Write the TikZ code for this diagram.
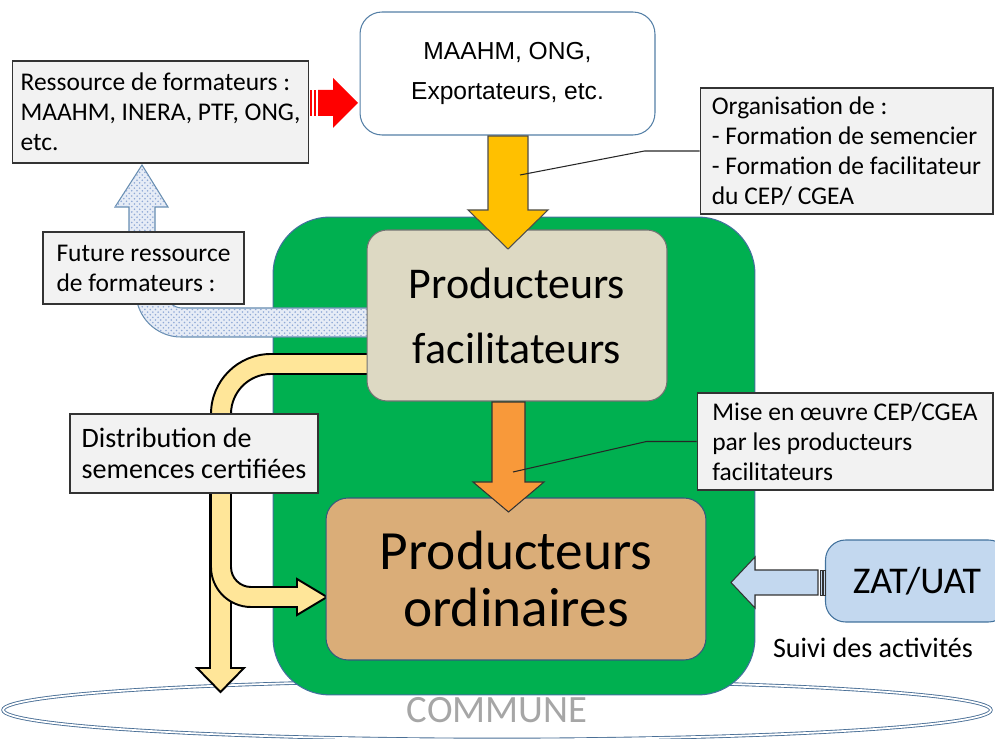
\documentclass[tikz,border=0pt]{standalone}
\usepackage{fontspec}
\setmainfont{Carlito}
\newfontfamily\arialfont{Liberation Sans}
\usetikzlibrary{shapes.geometric,patterns}

\definecolor{zonegreen}{HTML}{00B050}
\definecolor{zoneborder}{HTML}{41719C}
\definecolor{facfill}{HTML}{DDD9C3}
\definecolor{ordfill}{HTML}{DAAD78}
\definecolor{calloutfill}{HTML}{F2F2F2}
\definecolor{seedyellow}{HTML}{FFE699}
\definecolor{goldfill}{HTML}{FFC000}
\definecolor{orangefill}{HTML}{F8993A}
\definecolor{zatblue}{HTML}{C3D8EF}
\definecolor{dotblue}{HTML}{8FA9D6}
\definecolor{communeline}{HTML}{4A6F96}

\tikzset{
	callout/.style={draw=black!80, fill=calloutfill, line width=0.6pt, inner sep=0pt, align=left, font=\fontsize{14.5}{17}\selectfont},
	roundbox/.style={rounded corners=0.4cm, line width=0.6pt, inner sep=0pt, align=center},
	seedarrow/.style={draw=black, fill=seedyellow, line width=1.1pt},
	dotarrow/.style={draw=zoneborder!80, fill=dotblue!22, line width=0.6pt, postaction={pattern=crosshatch dots, pattern color=dotblue}},
	pointer/.style={draw=black!85, line width=0.6pt},
}

\begin{document}
\begin{tikzpicture}[x=0.02cm, y=0.02cm]

	\useasboundingbox (0,0) rectangle (995,-739);

	% Commune and zone.
	\node[ellipse, draw=communeline, double=white, double distance=1pt, line width=0.5pt, minimum width=19.76cm, minimum height=1.18cm, inner sep=0pt, text=black!35, font=\fontsize{22}{24}\selectfont] (commune) at (497,-710) {COMMUNE};
	\node[draw=zoneborder, fill=zonegreen, line width=0.6pt, rounded corners=1.14cm, minimum width=9.64cm, minimum height=9.56cm] (zone) at (514,-456) {};

	% Dotted arrows (future trainers).
	\draw[dotarrow] (380,-308) -- (182,-308) arc[start angle=270, end angle=180, radius=16] -- (166,-260) -- (136,-260) -- (136,-292) arc[start angle=180, end angle=270, radius=45] -- (380,-337) -- cycle;
	\draw[dotarrow] (129,-245) -- (129,-207) -- (115,-207) -- (142,-165) -- (168,-207) -- (155,-207) -- (155,-245) -- cycle;

	% Seed distribution arrows.
	\draw[seedarrow] (210,-430) -- (210,-668) -- (197,-668) -- (220.5,-692) -- (244,-668) -- (231,-668) -- (231,-430) -- cycle;
	\draw[seedarrow] (380,-354) -- (271,-354) arc[start angle=90, end angle=180, radius=60] -- (211,-567) arc[start angle=180, end angle=270, radius=40] -- (297,-607) -- (297,-615) -- (327,-597) -- (297,-579) -- (297,-587) -- (251,-587) arc[start angle=270, end angle=180, radius=20] -- (231,-414) arc[start angle=180, end angle=90, radius=40] -- (380,-374) -- cycle;

	% Main boxes.
	\node[roundbox, draw=black!55, fill=facfill, minimum width=6cm, minimum height=3.42cm, font=\fontsize{25}{37}\selectfont] (fac) at (517,-315.5) {Producteurs\\facilitateurs};
	\node[roundbox, draw=zoneborder!80!black, fill=ordfill, rounded corners=0.44cm, minimum width=7.6cm, minimum height=3.24cm, font=\fontsize{31.5}{32}\selectfont] (ord) at (516,-579) {Producteurs\\ordinaires};
	\node[roundbox, draw=zoneborder!90, fill=white, rounded corners=0.44cm, minimum width=5.9cm, minimum height=2.46cm, font=\arialfont\fontsize{14}{23}\selectfont] (maahm) at (507.5,-73.5) {MAAHM, ONG,\\Exportateurs, etc.};
	\node[roundbox, draw=zoneborder, fill=zatblue, minimum width=3.66cm, minimum height=1.64cm, font=\fontsize{21.5}{24}\selectfont] (zat) at (917,-581) {ZAT/UAT};
	\node[font=\fontsize{16}{19}\selectfont] (suivi) at (873,-648) {Suivi des activités};

	% Block arrows.
	\draw[draw=black!70, fill=goldfill, line width=0.6pt] (488,-136) -- (488,-210) -- (468,-210) -- (508,-249) -- (548,-210) -- (528,-210) -- (528,-136) -- cycle;
	\draw[draw=black!80, fill=orangefill, line width=0.6pt] (492,-402) -- (492,-482) -- (473,-482) -- (508.5,-512) -- (544,-482) -- (525,-482) -- (525,-402) -- cycle;
	\fill[red] (318,-90) -- (333,-90) -- (333,-78) -- (358,-103) -- (333,-128) -- (333,-116) -- (318,-116) -- cycle;
	\fill[red] (310,-90) rectangle (312,-116);
	\fill[red] (314,-90) rectangle (316,-116);
	\draw[draw=black!80, fill=zatblue, line width=0.6pt] (818,-570) -- (755,-570) -- (755,-557) -- (731,-582.5) -- (755,-608) -- (755,-595) -- (818,-595) -- cycle;
	\draw[draw=black!80, fill=zatblue, line width=0.5pt] (820,-570) rectangle (822,-595);
	\draw[draw=black!80, fill=zatblue, line width=0.5pt] (823.5,-570) rectangle (825.5,-595);

	% Callouts.
	\node[callout, minimum width=5.94cm, minimum height=2.04cm] (ress) at (160.5,-112) {Ressource de formateurs :\\MAAHM, INERA, PTF, ONG,\\etc.};
	\node[callout, minimum width=4.02cm, minimum height=1.44cm] (fut) at (143.5,-268) {Future ressource\\de formateurs :};
	\node[callout, minimum width=4.96cm, minimum height=1.58cm, font=\fontsize{16}{17.6}\selectfont] (dist) at (194,-453.5) {Distribution de\\semences certifiées};
	\node[callout, minimum width=5.86cm, minimum height=2.52cm] (orga) at (846.5,-151) {Organisation de :\\- Formation de semencier\\- Formation de facilitateur\\du CEP/ CGEA};
	\node[callout, minimum width=5.92cm, minimum height=1.94cm] (mise) at (845,-441.5) {Mise en œuvre CEP/CGEA\\par les producteurs\\facilitateurs};

	% Pointer lines.
	\coordinate (gold_pt) at (520,-175);
	\coordinate (orange_pt) at (513,-472);
	\draw[pointer] (orga.west) -- ++(-55,0) -- (gold_pt);
	\draw[pointer] (mise.west) -- ++(-50,0) -- (orange_pt);

\end{tikzpicture}
\end{document}
